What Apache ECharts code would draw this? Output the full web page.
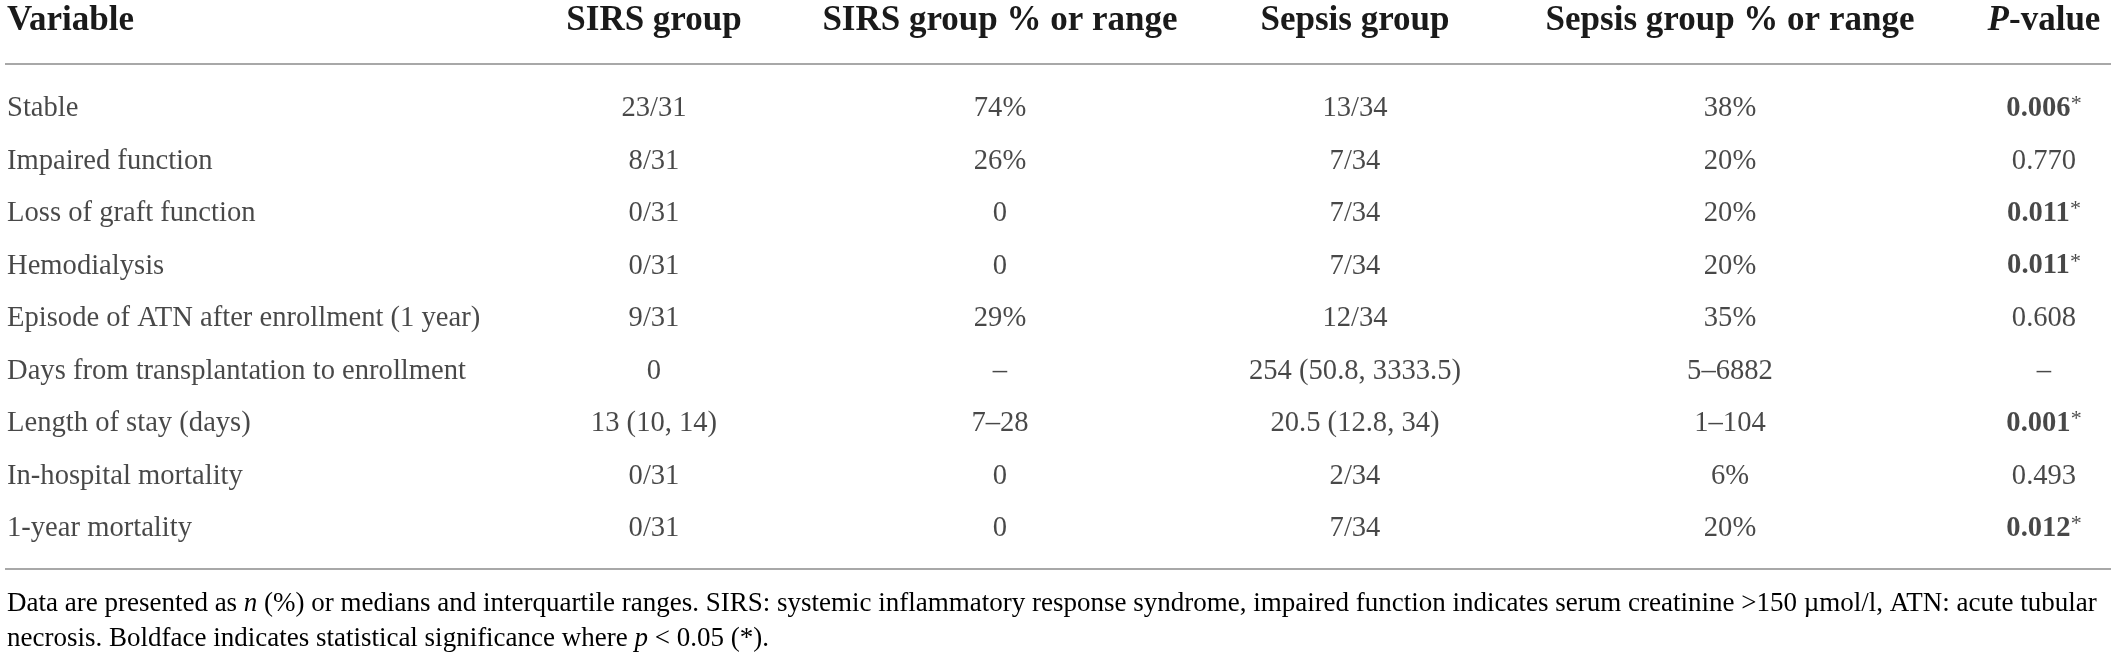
<!DOCTYPE html>
<html style="height: 100%">
<head>
    <meta charset="utf-8">
</head>
<body style="height: 100%; margin: 0; background: #fff">
    <div id="container" style="height: 100%"></div>
    <script src="https://cdn.jsdelivr.net/npm/echarts@6/dist/echarts.min.js"></script>
    <script type="text/javascript">
        // table data
        var variables = ['Stable', 'Impaired function', 'Loss of graft function', 'Hemodialysis',
            'Episode of ATN after enrollment (1 year)', 'Days from transplantation to enrollment',
            'Length of stay (days)', 'In-hospital mortality', '1-year mortality'];
        var sirsGroup = ['23/31', '8/31', '0/31', '0/31', '9/31', '0', '13 (10, 14)', '0/31', '0/31'];
        var sirsPct = ['74%', '26%', '0', '0', '29%', '–', '7–28', '0', '0'];
        var sepsisGroup = ['13/34', '7/34', '7/34', '7/34', '12/34', '254 (50.8, 3333.5)', '20.5 (12.8, 34)', '2/34', '7/34'];
        var sepsisPct = ['38%', '20%', '20%', '20%', '35%', '5–6882', '1–104', '6%', '20%'];
        var pValues = ['0.006', '0.770', '0.011', '0.011', '0.608', '–', '0.001', '0.493', '0.012'];
        var significant = [true, false, true, true, false, false, true, false, true];
        var headers = ['Variable', 'SIRS group', 'SIRS group % or range', 'Sepsis group', 'Sepsis group % or range', 'P-value'];
        var footLine1 = ['Data are presented as ', 'n', ' (%) or medians and interquartile ranges. SIRS: systemic inflammatory response syndrome, impaired function indicates serum creatinine >150 µmol/l, ATN: acute tubular'];
        var footLine2 = ['necrosis. Boldface indicates statistical significance where ', 'p', ' < 0.05 (*).'];

        // layout
        var W = 2117;
        var colX = [7, 654, 1000, 1355, 1730, 2044];
        var font = '"Liberation Serif", "DejaVu Serif", serif';
        var ink = '#1a1a1a';
        var ruleColor = '#a8a8a8';
        var bodySize = 28.6;

        // fit footnote width to the table width
        var ctx = document.createElement('canvas').getContext('2d');
        ctx.font = '28px ' + font;
        var footSize = 28 * 2090 / ctx.measureText(footLine1.join('')).width;

        var dom = document.getElementById('container');
        var myChart = echarts.init(dom);

        function colSeries(values, x) {
            return {
                type: 'scatter',
                symbolSize: 0,
                silent: true,
                data: values.map(function (v, i) { return [x, i, v]; }),
                label: {
                    show: true,
                    position: 'inside',
                    color: ink,
                    fontFamily: font,
                    fontSize: bodySize,
                    formatter: function (p) { return p.value[2]; }
                }
            };
        }

        var pSeries = colSeries(pValues, colX[5]);
        pSeries.data = pValues.map(function (v, i) { return [colX[5], i, significant[i] ? '{b|' + v + '}{s|*}' : v]; });
        pSeries.label.rich = {
            b: { fontFamily: font, fontSize: bodySize, fontWeight: 'bold', color: ink },
            s: { fontFamily: font, fontSize: 22, color: ink, verticalAlign: 'top', padding: [0, 0, 8, 0] }
        };

        var varSeries = colSeries(variables, colX[0]);
        varSeries.label.position = 'right';
        varSeries.label.distance = 0;

        var headerGraphics = headers.map(function (h, i) {
            var g = {
                type: 'text',
                x: colX[i],
                y: 21,
                style: {
                    text: h,
                    fill: ink,
                    font: 'bold 35px ' + font,
                    textAlign: i === 0 ? 'left' : 'center',
                    textVerticalAlign: 'middle'
                }
            };
            if (i === 5) {
                g.style.text = '{i|P}{b|-value}';
                g.style.rich = {
                    i: { fontFamily: font, fontSize: 35, fontWeight: 'bold', fontStyle: 'italic', color: ink },
                    b: { fontFamily: font, fontSize: 35, fontWeight: 'bold', color: ink }
                };
            }
            return g;
        });

        function footText(parts, y) {
            return {
                type: 'text',
                x: 7,
                y: y,
                style: {
                    text: '{t|' + parts[0] + '}{i|' + parts[1] + '}{t|' + parts[2] + '}',
                    textVerticalAlign: 'middle',
                    rich: {
                        t: { fontFamily: font, fontSize: footSize, color: ink },
                        i: { fontFamily: font, fontSize: footSize, fontStyle: 'italic', color: ink }
                    }
                }
            };
        }

        myChart.setOption({
            animation: false,
            grid: { left: 0, right: 0, top: 82.25, height: 472.5 },
            xAxis: { type: 'value', min: 0, max: W, show: false },
            yAxis: { type: 'category', data: variables, inverse: true, show: false },
            series: [
                varSeries,
                colSeries(sirsGroup, colX[1]),
                colSeries(sirsPct, colX[2]),
                colSeries(sepsisGroup, colX[3]),
                colSeries(sepsisPct, colX[4]),
                pSeries
            ],
            graphic: headerGraphics.concat([
                { type: 'line', shape: { x1: 5, y1: 64, x2: 2111, y2: 64 }, style: { stroke: ruleColor, lineWidth: 2 } },
                { type: 'line', shape: { x1: 5, y1: 569, x2: 2111, y2: 569 }, style: { stroke: ruleColor, lineWidth: 2 } },
                footText(footLine1, 604),
                footText(footLine2, 639)
            ])
        });
    </script>
</body>
</html>
